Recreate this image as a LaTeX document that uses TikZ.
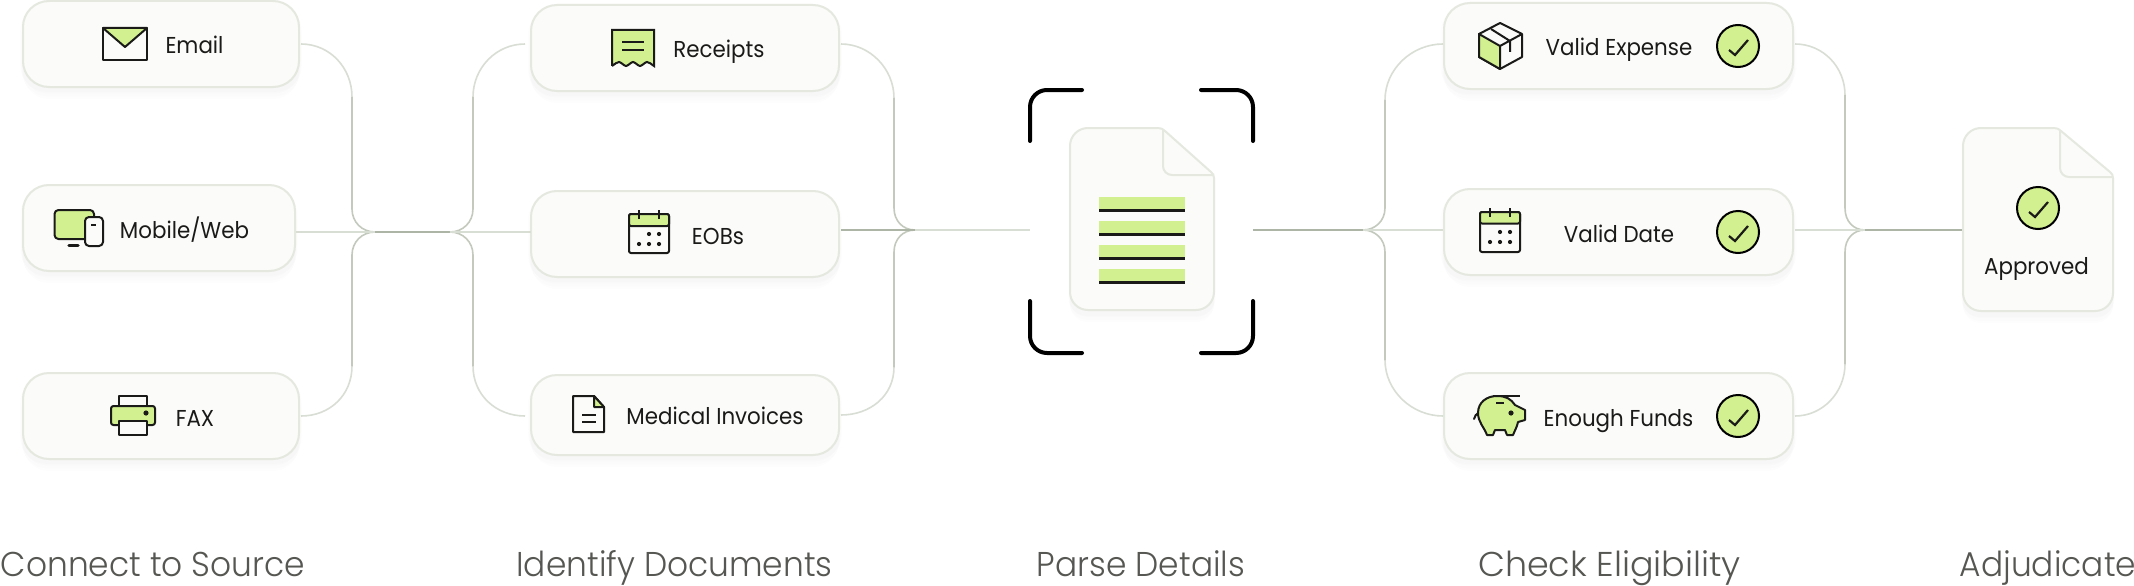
\documentclass[tikz,border=0pt]{standalone}
\usepackage{fontspec}
\usetikzlibrary{shadows,calc}
\setmainfont{Poppins}
\newfontfamily\labfont[FakeStretch=0.93]{Poppins}
\newfontfamily\capfont[FakeStretch=0.955]{Poppins Light}
\newfontfamily\capwide[FakeStretch=1.015]{Poppins Light}
\definecolor{lime}{HTML}{D2F08F}
\definecolor{ink}{HTML}{1A1A18}
\definecolor{cardfill}{HTML}{FBFBF9}
\definecolor{cardline}{HTML}{E4E8DF}
\definecolor{connpale}{HTML}{D9DED5}
\definecolor{connmid}{HTML}{C3CABD}
\definecolor{conndark}{HTML}{ADB5A7}
\definecolor{capgrey}{HTML}{565652}
\tikzset{
  softshadow/.style={
    general shadow={shadow yshift=-12pt,shadow scale=1.0,fill=black,opacity=0.006},
    general shadow={shadow yshift=-9pt,shadow scale=1.01,fill=black,opacity=0.006},
    general shadow={shadow yshift=-6pt,shadow scale=1.01,fill=black,opacity=0.008},
    general shadow={shadow yshift=-4pt,shadow scale=1.02,fill=black,opacity=0.008}},
  card/.style={softshadow,draw=cardline,fill=cardfill,line width=2pt,rounded corners=26pt,inner sep=0pt,outer sep=0pt},
  docpaper/.style={softshadow,draw=cardline,fill=cardfill,line width=2pt},
  foldline/.style={draw=cardline,line width=2pt,rounded corners=9pt},
  conn/.style={draw=connpale,line width=1.6pt},
  connm/.style={draw=connmid,line width=1.6pt},
  connd/.style={draw=conndark,line width=1.6pt},
  icon/.style={draw=ink,line width=2pt,line join=round},
  iconfill/.style={icon,fill=lime},
  iconwhite/.style={icon,fill=cardfill},
  dot/.style={fill=ink,draw=none},
  lab/.style={anchor=base,inner sep=0pt,text=ink,font=\labfont\fontsize{23}{27}\selectfont},
  stage/.style={anchor=base,inner sep=0pt,text=capgrey,font=\capfont\fontsize{34.4}{40}\selectfont},
  bracket/.style={draw=black,line width=4pt,line cap=round,rounded corners=17pt},
  okdisc/.style={circle,draw=black,fill=lime,line width=2pt,minimum size=42pt,inner sep=0pt,outer sep=0pt},
  okmark/.style={draw=ink,line width=2.2pt,line join=miter},
  ghost/.style={inner sep=0pt,outer sep=0pt,draw=none}
}
\newcommand{\tickdisc}[3]{%
  \node[okdisc] (#1) at (#2,#3) {};
  \draw[okmark] ([shift={(-9,4)}]#1.center) -- ([shift={(-3,9)}]#1.center) -- ([shift={(10,-6)}]#1.center);
}
\begin{document}
\begin{tikzpicture}[x=1pt,y=-1pt]
\useasboundingbox[fill=white] (0,0) rectangle (2134,586);

% hubs
\coordinate (hubA) at (375,232);
\coordinate (hubB) at (450,232);
\coordinate (hubC) at (915,230);
\coordinate (hubD) at (1363,230);
\coordinate (hubE) at (1865,230);

% anchors for the two non-card stages
\node[ghost,minimum width=223pt,minimum height=263pt] (scan) at (1141.5,221.5) {};
\node[ghost,minimum width=150pt,minimum height=183pt] (approved) at (2038,219.5) {};

% cards
\node[card,minimum width=276pt,minimum height=86pt] (email) at (161,44) {};
\node[card,minimum width=272pt,minimum height=86pt] (mobile) at (159,228) {};
\node[card,minimum width=276pt,minimum height=86pt] (fax) at (161,416) {};
\node[card,minimum width=308pt,minimum height=86pt] (receipts) at (685,48) {};
\node[card,minimum width=308pt,minimum height=86pt] (eobs) at (685,234) {};
\node[card,minimum width=308pt,minimum height=80pt] (medical) at (685,415) {};
\node[card,minimum width=349pt,minimum height=86pt] (expense) at (1618.5,46) {};
\node[card,minimum width=349pt,minimum height=86pt] (date) at (1618.5,232) {};
\node[card,minimum width=349pt,minimum height=86pt] (funds) at (1618.5,416) {};

% fan 1 (sources to hub)
\draw[conn] ([xshift=2pt]email.east) .. controls +(29,0) and +(0,-29) .. (352,97);
\draw[connm] (352,97) -- (352,209) .. controls +(0,13) and +(-13,0) .. (hubA);
\draw[conn] ([xshift=2pt]fax.east) .. controls +(29,0) and +(0,29) .. (352,366);
\draw[connm] (352,366) -- (352,255) .. controls +(0,-13) and +(-13,0) .. (hubA);
\draw[conn] ([xshift=1pt]mobile.east |- hubA) -- (hubA);
\draw[connd] (hubA) -- (hubB);
% fan 2
\draw[conn] ([xshift=-6pt]receipts.west |- email.east) .. controls +(-29,0) and +(0,-29) .. (473,97);
\draw[connm] (473,97) -- (473,209) .. controls +(0,13) and +(13,0) .. (hubB);
\draw[conn] ([xshift=-6pt]medical.west |- fax.east) .. controls +(-29,0) and +(0,29) .. (473,366);
\draw[connm] (473,366) -- (473,255) .. controls +(0,-13) and +(13,0) .. (hubB);
\draw[conn] (hubB) -- (eobs.west |- hubB);
% fan 3
\draw[conn] ([xshift=2pt]receipts.east |- email.east) .. controls +(29,0) and +(0,-29) .. (894,98);
\draw[connm] (894,98) -- (894,208) .. controls +(0,13) and +(-12,0) .. (hubC);
\draw[conn] ([xshift=2pt]medical.east) .. controls +(29,0) and +(0,29) .. (894,367);
\draw[connm] (894,367) -- (894,252) .. controls +(0,-13) and +(-12,0) .. (hubC);
\draw[connd] ([xshift=2pt]eobs.east |- hubC) -- (hubC);
\draw[conn] (hubC) -- (scan.west |- hubC);
% fan 4
\draw[conn] ([xshift=-1pt,yshift=2pt]expense.west) .. controls +(-31,0) and +(0,-31) .. (1385,100);
\draw[connm] (1385,100) -- (1385,208) .. controls +(0,13) and +(12,0) .. (hubD);
\draw[conn] ([xshift=-1pt]funds.west) .. controls +(-31,0) and +(0,31) .. (1385,360);
\draw[connm] (1385,360) -- (1385,252) .. controls +(0,-13) and +(12,0) .. (hubD);
\draw[connd] (scan.east |- hubD) -- (hubD);
\draw[conn] (hubD) -- ([xshift=-1pt]date.west |- hubD);
% fan 5
\draw[conn] ([xshift=2pt,yshift=2pt]expense.east) .. controls +(28,0) and +(0,-28) .. (1845,95);
\draw[connm] (1845,95) -- (1845,208) .. controls +(0,13) and +(-12,0) .. (hubE);
\draw[conn] ([xshift=2pt]funds.east) .. controls +(28,0) and +(0,28) .. (1845,364);
\draw[connm] (1845,364) -- (1845,252) .. controls +(0,-13) and +(-12,0) .. (hubE);
\draw[conn] ([xshift=2pt]date.east |- hubE) -- (hubE);
\draw[connd] (hubE) -- (approved.west |- hubE);

% labels
\node[lab] (tEmail) at (194.5,54) {Email};
\node[lab] (tMobile) at (184.5,238) {Mobile/Web};
\node[lab] (tFax) at (195,426) {FAX};
\node[lab] (tReceipts) at (719,58) {Receipts};
\node[lab] (tEobs) at (718,244) {EOBs};
\node[lab] (tMedical) at (715,424) {Medical Invoices};
\node[lab] (tExpense) at (1619,56) {Valid Expense};
\node[lab] (tDate) at (1619,242) {Valid Date};
\node[lab] (tFunds) at (1618.5,426) {Enough Funds};

% stage captions
\node[stage] (cap1) at (153,576) {Connect to Source};
\node[stage] (cap2) at (674.5,576) {Identify Documents};
\node[stage] (cap3) at (1141,576) {Parse Details};
\node[stage,font=\capwide\fontsize{34.4}{40}\selectfont] (cap4) at (1609.5,576) {Check Eligibility};
\node[stage] (cap5) at (2048,576) {Adjudicate};

% email icon
\draw[iconwhite] (103,28) rectangle (147,60);
\draw[iconfill] (103,28) -- (147,28) -- (125,47) -- cycle;

% mobile/web icon
\draw[iconfill,rounded corners=4pt] (54.5,210) rectangle (94,239);
\draw[iconwhite,rounded corners=4pt] (85,217) rectangle (103,246);
\draw[icon] (91,224.5) -- (96,224.5);
\draw[icon,line width=3.5pt,line cap=round] (69,245.5) -- (78,245.5);

% fax icon
\draw[iconwhite] (119,396) rectangle (147,407);
\draw[iconfill,rounded corners=2.5pt] (111,406) rectangle (155,425);
\draw[iconwhite] (119,421) rectangle (147,435);
\fill[dot] (146,413) circle (2.6);

% receipt icon
\draw[iconfill,line join=miter] (612,66) -- (612,30) -- (654,30) -- (654,66)
  .. controls (651,64) and (649,62) .. (647,62) .. controls (645,62) and (642,66) .. (640,66)
  .. controls (638,66) and (635,62) .. (633,62) .. controls (631,62) and (628,66) .. (626,66)
  .. controls (624,66) and (621,62) .. (619,62) .. controls (617,62) and (615,64) .. (612,66);
\draw[icon] (622,42) -- (644,42) (622,50) -- (644,50);

% calendars
\draw[iconwhite,rounded corners=2pt] (629,214) rectangle (669,253);
\draw[iconfill,rounded corners=2pt] (629,214) rectangle (669,226);
\draw[icon] (638.5,210) -- (638.5,219) (659,210) -- (659,219);
\foreach \px/\py in {649/234,659/234,639/244,649/244,659/244} \fill[dot] (\px,\py) circle (2.1);

\draw[iconwhite,rounded corners=2pt] (1480,212) rectangle (1520,252);
\draw[iconfill,rounded corners=2pt] (1480,212) rectangle (1520,223.5);
\draw[icon] (1489.5,208) -- (1489.5,217) (1510,208) -- (1510,217);
\foreach \px/\py in {1500/232,1510/232,1490/242,1500/242,1510/242} \fill[dot] (\px,\py) circle (2.1);

% medical doc icon
\draw[iconwhite,line join=round] (573,396) -- (594,396) -- (604,407) -- (604,432) -- (573,432) -- cycle;
\draw[iconfill] (594,396) -- (604,407) -- (594,407) -- cycle;
\draw[icon] (582,415) -- (596,415) (582,422) -- (596,422);

% parcel icon
\draw[iconwhite] (1500,23) -- (1522,34) -- (1522,57) -- (1500,69) -- (1479,57) -- (1479,34) -- cycle;
\draw[iconfill] (1479,34) -- (1500,46) -- (1500,69) -- (1479,57) -- cycle;
\draw[icon] (1500,46) -- (1522,34) (1491,29) -- (1510,41) -- (1510,52);

% piggy icon
\draw[iconfill] (1487,435) .. controls (1484,427) and (1478,422) .. (1478,413)
  .. controls (1478,402) and (1487,396) .. (1497,396)
  .. controls (1506,396) and (1511,399) .. (1515,405) -- (1525,410) -- (1525,420) -- (1518,422)
  .. controls (1517,427) and (1515,430) .. (1513,435) -- (1507,435) -- (1505,430) -- (1495,430) -- (1493,435) -- cycle;
\draw[icon,line cap=round] (1474,419) .. controls (1475,416) and (1476,414) .. (1478,413);
\draw[icon] (1493,396) -- (1520,396);
\draw[icon] (1496,403) -- (1504,403);
\fill[dot] (1511,413) circle (2.6);

% tick discs
\tickdisc{okA}{1738}{46}
\tickdisc{okB}{1738}{232}
\tickdisc{okC}{1738}{416}

% centre document
\path[docpaper] (1088,128) -- (1158,128) .. controls (1161,128) and (1163,129) .. (1165,131)
  -- (1211,172) .. controls (1213,174) and (1214,175) .. (1214,178) -- (1214,292)
  .. controls (1214,302) and (1206,310) .. (1196,310) -- (1088,310)
  .. controls (1078,310) and (1070,302) .. (1070,292) -- (1070,146)
  .. controls (1070,136) and (1078,128) .. (1088,128) -- cycle;
\draw[foldline] (1163,130) -- (1163,175) -- (1213,175);
\foreach \sy in {197,221,245,269}{
  \fill[lime] (1099,\sy) rectangle (1185,\sy+12);
  \fill[ink] (1099,\sy+12) rectangle (1185,\sy+15);
}

% scan brackets
\draw[bracket] (1030,141) -- (1030,90) -- (1082,90);
\draw[bracket] (1201,90) -- (1253,90) -- (1253,141);
\draw[bracket] (1030,301) -- (1030,353) -- (1082,353);
\draw[bracket] (1201,353) -- (1253,353) -- (1253,301);

% approved document
\path[docpaper] (1981,128) -- (2054,128) .. controls (2057,128) and (2059,129) .. (2061,131)
  -- (2110,172) .. controls (2112,174) and (2113,175) .. (2113,178) -- (2113,293)
  .. controls (2113,303) and (2105,311) .. (2095,311) -- (1981,311)
  .. controls (1971,311) and (1963,303) .. (1963,293) -- (1963,146)
  .. controls (1963,136) and (1971,128) .. (1981,128) -- cycle;
\draw[foldline] (2060,130) -- (2060,177) -- (2112,177);
\tickdisc{okD}{2038}{208}
\node[lab] (tApproved) at (2036.5,274) {Approved};
\end{tikzpicture}
\end{document}
